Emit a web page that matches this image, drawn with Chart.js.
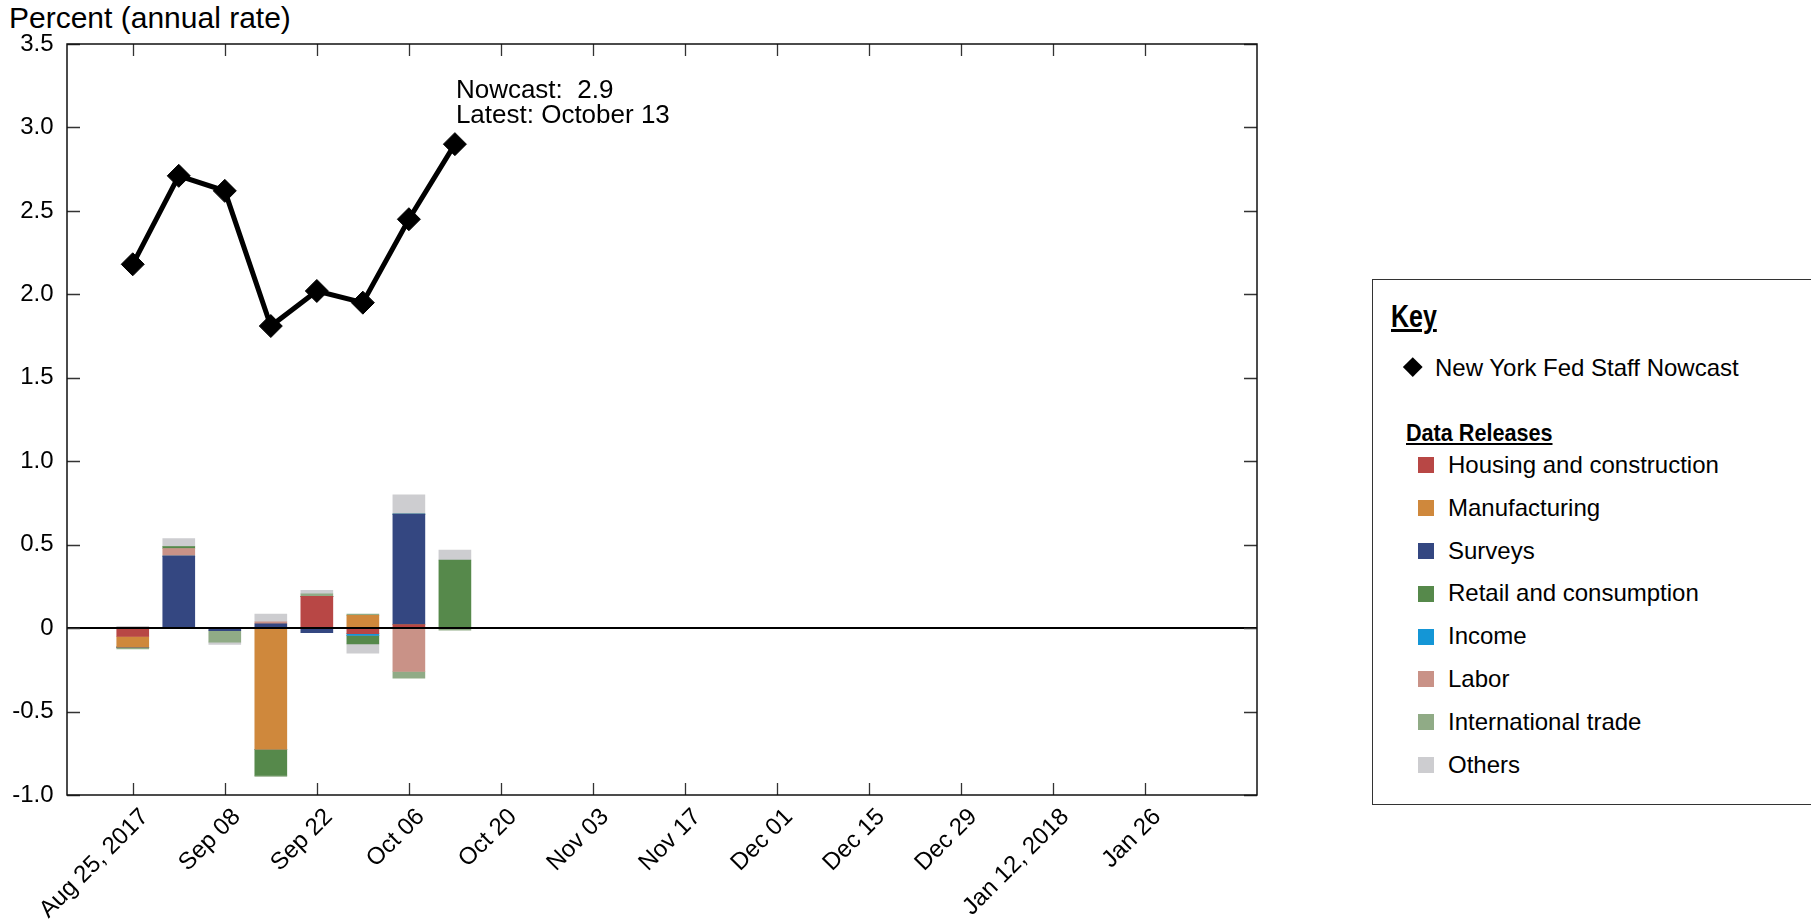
<!DOCTYPE html>
<html>
<head>
<meta charset="utf-8">
<script src="https://cdn.jsdelivr.net/npm/chart.js@4.4.1/dist/chart.umd.min.js"></script>
<style>
  body { margin: 0; background: #fff; width: 1811px; height: 924px; overflow: hidden; position: relative;
         font-family: "Liberation Sans", Arial, sans-serif; color: #000; }
  #chart-wrap { position: absolute; left: 0; top: 0; width: 1300px; height: 924px; }
  #y-title { position: absolute; left: 9px; top: 3px; font-size: 30px; line-height: 30px; white-space: nowrap; }
  #key-box { position: absolute; left: 1372px; top: 279px; width: 480px; height: 526px;
             border: 1.5px solid #333; box-sizing: border-box; }
  .lg { position: absolute; font-size: 24px; line-height: 24px; white-space: nowrap; }
  .hd { position: absolute; font-weight: bold; text-decoration: underline; white-space: nowrap;
        transform-origin: 0 0; }
  .sw { position: absolute; width: 16px; height: 16px; }
  #diamond { position: absolute; left: 1406px; top: 360px; width: 13.5px; height: 13.5px;
             background: #000; transform: rotate(45deg); }
</style>
</head>
<body>
<div id="y-title">Percent (annual rate)</div>
<div id="chart-wrap"><canvas id="nowcast-chart"></canvas></div>
<div id="key-box"></div>
<div class="hd" style="left:1391px; top:300px; font-size:32px; line-height:32px; transform:scaleX(0.78);">Key</div>
<div id="diamond"></div>
<div class="lg" style="left:1435px; top:356px;">New York Fed Staff Nowcast</div>
<div class="hd" style="left:1406px; top:421px; font-size:24px; line-height:24px; transform:scaleX(0.9);">Data Releases</div>
<div id="legend-items"></div>

<script>
// weekly release dates, as days after Aug 25, 2017
const releaseDays = [0, 7, 14, 21, 28, 35, 42, 49];
const nowcast = [2.18, 2.71, 2.62, 1.81, 2.02, 1.95, 2.45, 2.90];

// contributions by category (percentage points)
const housing       = [-0.050, 0.000,  0.000,  0.000,  0.190, -0.034,  0.020, 0.000];
const manufacturing = [-0.064, 0.000,  0.004, -0.727,  0.000,  0.076,  0.000, 0.000];
const surveys       = [ 0.000, 0.431, -0.016,  0.026, -0.027,  0.000,  0.663, 0.000];
const retail        = [ 0.000, 0.012,  0.000, -0.156,  0.000, -0.050,  0.000, 0.407];
const income        = [ 0.000, 0.000,  0.000,  0.000,  0.000, -0.010,  0.000, 0.000];
const labor         = [ 0.000, 0.046,  0.000,  0.012,  0.000,  0.000, -0.260, 0.000];
const trade         = [-0.010, 0.000, -0.068, -0.006,  0.016,  0.008, -0.040, -0.012];
const others        = [ 0.010, 0.048, -0.014,  0.046,  0.020, -0.056,  0.116, 0.060];

const categories = ['Housing and construction', 'Manufacturing', 'Surveys', 'Retail and consumption',
                    'Income', 'Labor', 'International trade', 'Others'];
const series = [housing, manufacturing, surveys, retail, income, labor, trade, others];
const colors = ['#b84745', '#cf883c', '#344781', '#56894b', '#1496d6', '#c99287', '#90ab86', '#cdcdd0'];
// order in which the pieces are piled on each bar
const stackOrder = [0, 1, 2, 4, 5, 3, 6, 7];

const xTickDays = [0, 14, 28, 42, 56, 70, 84, 98, 112, 126, 140, 154];
const xTickLabels = ['Aug 25, 2017', 'Sep 08', 'Sep 22', 'Oct 06', 'Oct 20', 'Nov 03', 'Nov 17',
                     'Dec 01', 'Dec 15', 'Dec 29', 'Jan 12, 2018', 'Jan 26'];
const yTickValues = [-1, -0.5, 0, 0.5, 1, 1.5, 2, 2.5, 3, 3.5];
const yTickLabels = ['-1.0', '-0.5', '0', '0.5', '1.0', '1.5', '2.0', '2.5', '3.0', '3.5'];

const annotationLines = ['Nowcast:  2.9', 'Latest: October 13'];

// legend (HTML)
const legendItems = document.getElementById('legend-items');
categories.forEach((name, i) => {
  const top = 453 + i * 42.8;
  const sw = document.createElement('div');
  sw.className = 'sw';
  sw.style.left = '1418px';
  sw.style.top = (top + 4.3) + 'px';
  sw.style.background = colors[i];
  legendItems.appendChild(sw);
  const lb = document.createElement('div');
  lb.className = 'lg';
  lb.style.left = '1448px';
  lb.style.top = top + 'px';
  lb.textContent = name;
  legendItems.appendChild(lb);
});

Chart.defaults.font.family = '"Liberation Sans", Arial, sans-serif';
Chart.defaults.color = '#000';

const barSets = stackOrder.map(i => ({
  type: 'bar',
  label: categories[i],
  data: releaseDays.map((d, k) => ({ x: d, y: series[i][k] })),
  backgroundColor: colors[i],
  borderWidth: 0,
  barThickness: 32,
  stack: 'releases'
}));

const lineSet = {
  type: 'line',
  label: 'New York Fed Staff Nowcast',
  data: releaseDays.map((d, k) => ({ x: d, y: nowcast[k] })),
  borderColor: '#000',
  borderWidth: 5,
  tension: 0,
  pointStyle: 'rectRot',
  pointRadius: 11.5,
  pointBackgroundColor: '#000',
  pointBorderColor: '#000',
  pointBorderWidth: 1,
  stack: 'nowcast',
  order: -1
};

// frame, inward ticks, zero line and the latest-value note
const framePlugin = {
  id: 'frame',
  afterDatasetsDraw(chart) {
    const { ctx, chartArea: a, scales: { x, y } } = chart;
    ctx.save();
    const y0 = y.getPixelForValue(0);
    ctx.strokeStyle = '#000';
    ctx.lineWidth = 2;
    ctx.beginPath(); ctx.moveTo(a.left, y0); ctx.lineTo(a.right, y0); ctx.stroke();

    ctx.strokeStyle = '#333';
    ctx.lineWidth = 1.3;
    ctx.beginPath();
    y.ticks.forEach(t => {
      const py = Math.round(y.getPixelForValue(t.value)) + 0.5;
      ctx.moveTo(a.left, py); ctx.lineTo(a.left + 13, py);
      ctx.moveTo(a.right - 13, py); ctx.lineTo(a.right, py);
    });
    x.ticks.forEach(t => {
      const px = Math.round(x.getPixelForValue(t.value)) + 0.5;
      ctx.moveTo(px, a.bottom); ctx.lineTo(px, a.bottom - 12);
      ctx.moveTo(px, a.top); ctx.lineTo(px, a.top + 12);
    });
    ctx.stroke();

    ctx.strokeStyle = '#111';
    ctx.lineWidth = 1.5;
    ctx.strokeRect(a.left, a.top, a.right - a.left, a.bottom - a.top);

    const meta = chart.getDatasetMeta(chart.data.datasets.length - 1);
    const last = meta.data[meta.data.length - 1];
    ctx.fillStyle = '#000';
    ctx.font = '26px "Liberation Sans", Arial, sans-serif';
    ctx.textAlign = 'left';
    ctx.textBaseline = 'alphabetic';
    ctx.fillText(annotationLines[0], last.x + 1, last.y - 45.8);
    ctx.fillText(annotationLines[1], last.x + 1, last.y - 21.6);
    ctx.restore();
  }
};

new Chart(document.getElementById('nowcast-chart'), {
  data: { datasets: [...barSets, lineSet] },
  options: {
    responsive: true,
    maintainAspectRatio: false,
    animation: false,
    layout: { padding: { top: 44, right: 43, left: 0, bottom: 0 } },
    plugins: { legend: { display: false }, tooltip: { enabled: false } },
    scales: {
      x: {
        type: 'linear',
        min: -10,
        max: 171,
        offset: false,
        grid: { display: false, drawTicks: false },
        border: { display: false },
        afterBuildTicks: (scale) => { scale.ticks = xTickDays.map(v => ({ value: v })); },
        afterFit: (scale) => { scale.height = 129; scale.paddingLeft = 0; scale.paddingRight = 0; },
        ticks: {
          autoSkip: false,
          minRotation: 45,
          maxRotation: 45,
          padding: 8,
          labelOffset: 12,
          font: { size: 24 },
          callback: (v, i) => xTickLabels[i]
        }
      },
      y: {
        min: -1,
        max: 3.5,
        stacked: true,
        grid: { display: false, drawTicks: false },
        border: { display: false },
        afterBuildTicks: (scale) => { scale.ticks = yTickValues.map(v => ({ value: v })); },
        afterFit: (scale) => { scale.width = 67; scale.paddingTop = 0; scale.paddingBottom = 0; },
        ticks: {
          padding: 13.5,
          font: { size: 24 },
          callback: (v, i) => yTickLabels[i]
        }
      }
    }
  },
  plugins: [framePlugin]
});
</script>
</body>
</html>
